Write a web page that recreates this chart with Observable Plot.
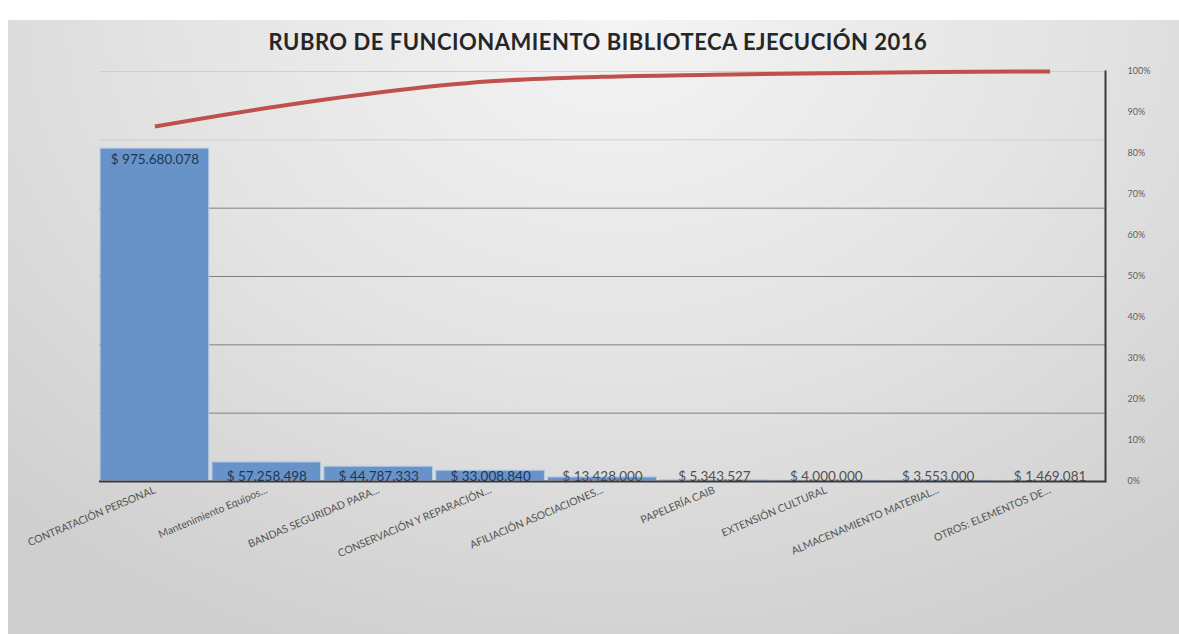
<!DOCTYPE html>
<html>
<head>
<meta charset="utf-8">
<script src="https://cdn.jsdelivr.net/npm/d3@7"></script>
<script src="https://cdn.jsdelivr.net/npm/@observablehq/plot@0.6"></script>
<style>
  html, body { margin: 0; padding: 0; background: #fff; width: 1179px; height: 634px; overflow: hidden; }
  #bg { position: absolute; left: 8px; top: 20px; width: 1171px; height: 614px;
        background: radial-gradient(ellipse 75% 110% at 52% 0%, #f4f4f4 0%, #e4e4e4 50%, #cfcfcf 100%); }
  #title { position: absolute; left: 0; top: 28px; width: 1196px; text-align: center; letter-spacing: 0.5px;
           font-family: Lato, "Open Sans", sans-serif; font-weight: 700; font-size: 22px; color: #262626; }
  #chart { position: absolute; left: 0; top: 60px; }
</style>
</head>
<body>
<div id="bg"></div>
<div id="title">RUBRO DE FUNCIONAMIENTO BIBLIOTECA EJECUCIÓN 2016</div>
<div id="chart"></div>
<script>
const categories = [
  "CONTRATACIÓN PERSONAL",
  "Mantenimiento Equipos...",
  "BANDAS SEGURIDAD PARA...",
  "CONSERVACIÓN Y REPARACIÓN...",
  "AFILIACIÓN ASOCIACIONES...",
  "PAPELERÍA CAIB",
  "EXTENSIÓN CULTURAL",
  "ALMACENAMIENTO MATERIAL...",
  "OTROS: ELEMENTOS DE..."
];
const values = [975680078, 57258498, 44787333, 33008840, 13428000, 5343527, 4000000, 3553000, 1469081];
const cumulativePct = [86.6, 91.1, 94.9, 97.6, 98.7, 99.2, 99.6, 99.9, 100];
const pctTicks = [0, 10, 20, 30, 40, 50, 60, 70, 80, 90, 100];
const gridValues = [0, 200e6, 400e6, 600e6, 800e6];
const gridValuesLight = [1000e6, 1200e6];

const yMax = 1.2e9;
const rows = categories.map((c, i) => ({cat: c, value: values[i], pct: cumulativePct[i], pctY: cumulativePct[i] / 100 * yMax}));
const fmt = v => "$ " + d3.format(",")(v).replace(/,/g, ".");

const font = "Lato, 'Open Sans', sans-serif";
const chart = Plot.plot({
  width: 1179,
  height: 574,
  marginLeft: 99,
  marginRight: 74,
  marginTop: 11,
  marginBottom: 153,
  style: {background: "transparent", fontFamily: font},
  x: {domain: categories, paddingInner: 0.02, paddingOuter: 0.005, round: false, label: null},
  y: {domain: [0, yMax], label: null},
  marks: [
    Plot.ruleY(gridValues, {stroke: "#808080", strokeWidth: 1}),
    Plot.ruleY(gridValuesLight, {stroke: "#cfcfcf", strokeWidth: 1}),
    Plot.barY(rows, {x: "cat", y: "value", fill: "#6893c9", stroke: "#b4cbe8", strokeWidth: 1, inset: 0.5}),
    Plot.line(rows, {x: "cat", y: "pctY", stroke: "#c0504d", strokeWidth: 4, curve: "monotone-x", strokeLinecap: "butt"}),
    Plot.text(rows.slice(0, 1), {x: "cat", y: "value", text: d => fmt(d.value), dy: 12, fontSize: 13.5, fill: "#1e3656"}),
    Plot.text(rows.slice(1), {x: "cat", y: 0, text: d => fmt(d.value), dy: -5, fontSize: 13.5, fill: d => d.value > 20e6 ? "#1e3656" : "#505050"}),
    Plot.ruleY([0], {stroke: "#3a3a3a", strokeWidth: 2}),
    Plot.frame({anchor: "right", stroke: "#3a3a3a", strokeWidth: 2}),
    Plot.axisY(pctTicks.map(p => p / 100 * yMax), {anchor: "right", tickSize: 0, tickPadding: 22, textAnchor: "start",
      tickFormat: d => Math.round(d / yMax * 100) + "%", fontSize: 9, fill: "#606060", label: null}),
    Plot.axisX({tickRotate: -23, tickSize: 0, tickPadding: 8, fontSize: 10.5, fill: "#555555", label: null})
  ]
});
document.getElementById("chart").appendChild(chart);
</script>
</body>
</html>
